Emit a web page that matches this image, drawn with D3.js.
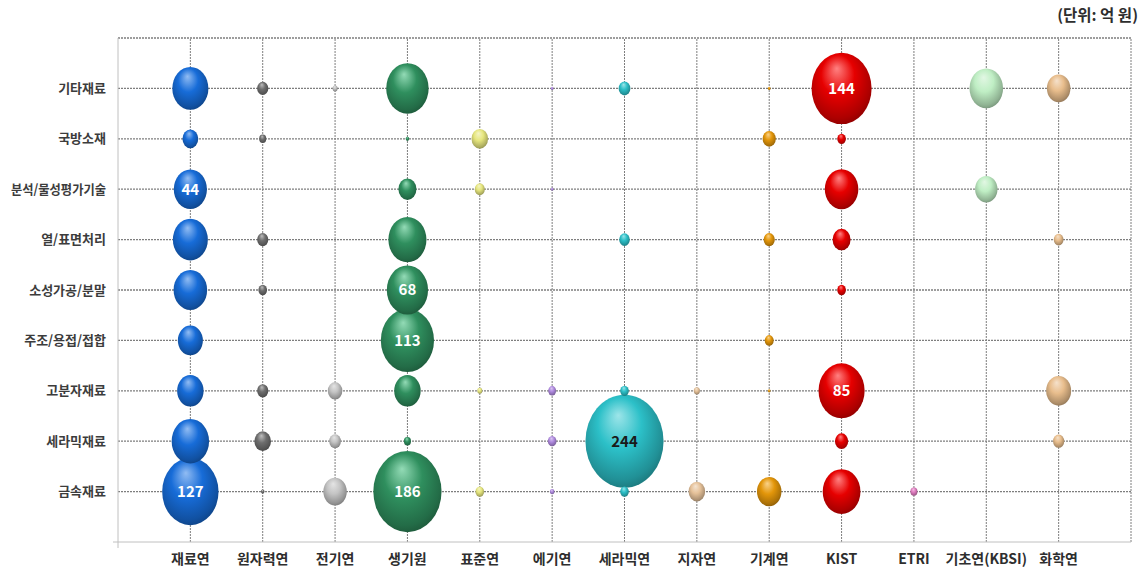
<!DOCTYPE html>
<html>
<head>
<meta charset="utf-8">
<script src="https://cdn.jsdelivr.net/npm/d3@7"></script>
<style>
  html, body { margin: 0; padding: 0; background: #ffffff; }
  svg { display: block; }
  text { font-family: "Noto Sans CJK KR", "Noto Sans", sans-serif; }
</style>
</head>
<body>
<svg id="chart" width="1146" height="571"></svg>
<script>
// ---- Data (억 원) ----
const categories = ["기타재료", "국방소재", "분석/물성평가기술", "열/표면처리", "소성가공/분말", "주조/용접/접합", "고분자재료", "세라믹재료", "금속재료"];
const institutes = ["재료연", "원자력연", "전기연", "생기원", "표준연", "에기연", "세라믹연", "지자연", "기계연", "KIST", "ETRI", "기초연(KBSI)", "화학연"];

// values ordered like categories; null = no bubble
const v재료연   = [52, 10, 44, 49, 45, 25, 28, 56, 127];
const v원자력연 = [5, 2, null, 5, 3, null, 5, 11, 0.5];
const v전기연   = [1, null, null, null, null, null, 8.5, 5.5, 22];
const v생기원   = [72, 0.5, 13, 58, 68, 113, 28, 2, 186];
const v표준연   = [null, 11, 4, null, null, null, 1, null, 3];
const v에기연   = [0.3, null, 0.3, null, null, null, 2.5, 3, 0.8];
const v세라믹연 = [5.5, null, null, 4.5, null, null, 3, 244, 3];
const v지자연   = [null, null, null, null, null, null, 1.5, null, 11];
const v기계연   = [0.3, 7, null, 5, null, 3.2, 0.3, null, 24];
const vKIST     = [144, 3, 45, 13, 3, null, 85, 7, 57];
const vETRI     = [null, null, null, null, null, null, null, null, 2];
const v기초연   = [45, null, 20, null, null, null, null, null, null];
const v화학연   = [22, null, null, 3.8, null, null, 25, 5, null];

const seriesValues = [v재료연, v원자력연, v전기연, v생기원, v표준연, v에기연, v세라믹연, v지자연, v기계연, vKIST, vETRI, v기초연, v화학연];
const seriesColors = ["#176cd8", "#6e6e6e", "#c4c4c4", "#2f8f5e", "#e6e67e", "#b08ae0", "#2cc0c8", "#e6c29a", "#e3960a", "#e60000", "#e07cc0", "#bfeec4", "#e8bd8c"];

// labelled bubbles: [institute, category, value]
const labelled = [
  ["재료연", "분석/물성평가기술", 44], ["재료연", "금속재료", 127],
  ["생기원", "소성가공/분말", 68], ["생기원", "주조/용접/접합", 113], ["생기원", "금속재료", 186],
  ["세라믹연", "세라믹재료", 244], ["KIST", "기타재료", 144], ["KIST", "고분자재료", 85]
];
const darkLabel = ["세라믹연"];
const unitText = "(단위: 억 원)";

// ---- Layout ----
const svg = d3.select("#chart");
const x = d3.scaleLinear().domain([0, institutes.length + 1]).range([118, 1131]);
const y = d3.scaleLinear().domain([0, categories.length + 1]).range([542, 38]);
const rScale = d3.scaleSqrt().domain([0, 244]).range([0, 46.5]);
const aspect = 0.84;

// gradients
const defs = svg.append("defs");
seriesColors.forEach((c, i) => {
  const base = d3.color(c);
  const hsl = d3.hsl(c);
  const light = d3.hsl(hsl.h, hsl.s, Math.min(0.93, hsl.l + (1 - hsl.l) * 0.55));
  const g = defs.append("radialGradient").attr("id", "g" + i)
    .attr("cx", "0.46").attr("cy", "0.42").attr("r", "0.62")
    .attr("fx", "0.42").attr("fy", "0.22");
  g.append("stop").attr("offset", "0").attr("stop-color", light.formatHex());
  g.append("stop").attr("offset", "0.45").attr("stop-color", base.formatHex());
  g.append("stop").attr("offset", "0.85").attr("stop-color", base.darker(0.8).formatHex());
  g.append("stop").attr("offset", "1").attr("stop-color", base.darker(1.4).formatHex());
});

// grid
const grid = svg.append("g");
d3.range(1, institutes.length + 2).forEach(i => {
  grid.append("line").attr("x1", x(i)).attr("x2", x(i)).attr("y1", y(0)).attr("y2", y(categories.length + 1))
    .attr("stroke", "#7e7e7e").attr("stroke-width", 1).attr("stroke-dasharray", "2,1");
});
d3.range(1, categories.length + 2).forEach(j => {
  grid.append("line").attr("x1", x(0)).attr("x2", x(institutes.length + 1)).attr("y1", y(j)).attr("y2", y(j))
    .attr("stroke", "#7e7e7e").attr("stroke-width", 1.3).attr("stroke-dasharray", "2,1");
});

// axes (light)
const yAxis = d3.axisLeft(y).tickValues(d3.range(0, categories.length + 2)).tickSize(0).tickFormat("");
svg.append("g").attr("transform", `translate(${x(0)},0)`).call(yAxis)
  .call(g => g.select(".domain").attr("stroke", "#c0c0c0").attr("d", `M0,${y(categories.length + 1)}V${y(0) + 6}`));
const xAxis = d3.axisBottom(x).tickValues([]).tickSize(0);
svg.append("g").attr("transform", `translate(0,${y(0)})`).call(xAxis)
  .call(g => g.select(".domain").attr("stroke", "#c0c0c0").attr("d", `M${x(0) - 5},0H${x(institutes.length + 1)}`));

// category labels
const maxLabelW = 95;
svg.append("g").selectAll("text").data(categories).join("text")
  .attr("x", 106).attr("y", (d, i) => y(categories.length - i)).attr("dy", "0.35em")
  .attr("text-anchor", "end").attr("font-size", 13).attr("font-weight", 700).attr("fill", "#3c3c3c")
  .text(d => d)
  .each(function () {
    if (this.getComputedTextLength() > maxLabelW) {
      d3.select(this).attr("textLength", maxLabelW).attr("lengthAdjust", "spacingAndGlyphs");
    }
  });

svg.append("g").selectAll("text").data(institutes).join("text")
  .attr("x", (d, i) => x(i + 1)).attr("y", 564)
  .attr("text-anchor", "middle").attr("font-size", 14).attr("font-weight", 700).attr("fill", "#2e2e2e")
  .text(d => d);

svg.append("text").attr("x", 1138).attr("y", 21).attr("text-anchor", "end")
  .attr("font-size", 15.5).attr("font-weight", 700).attr("fill", "#2e2e2e").text(unitText);

// bubbles
const pts = [];
seriesValues.forEach((vals, si) => {
  vals.forEach((v, ci) => {
    if (v != null) pts.push({ si, ci, v });
  });
});
pts.sort((a, b) => b.v - a.v);
svg.append("g").selectAll("ellipse").data(pts).join("ellipse")
  .attr("cx", d => x(d.si + 1))
  .attr("cy", d => y(categories.length - d.ci))
  .attr("ry", d => Math.max(1.2, rScale(d.v)))
  .attr("rx", d => Math.max(1.2, rScale(d.v) * aspect))
  .attr("fill", d => `url(#g${d.si})`);

// value labels
svg.append("g").selectAll("text").data(labelled).join("text")
  .attr("x", d => x(institutes.indexOf(d[0]) + 1))
  .attr("y", d => y(categories.length - categories.indexOf(d[1])))
  .attr("dy", "0.36em").attr("text-anchor", "middle")
  .attr("font-size", 15).attr("font-weight", 700)
  .attr("fill", d => darkLabel.includes(d[0]) ? "#1a1a1a" : "#ffffff")
  .text(d => d[2]);
</script>
</body>
</html>
